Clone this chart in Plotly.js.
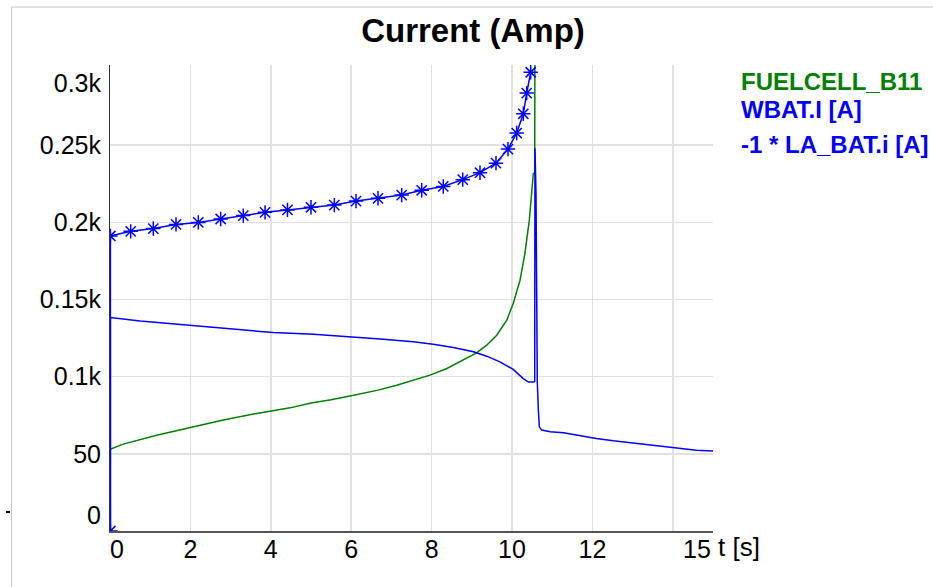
<!DOCTYPE html>
<html>
<head>
<meta charset="utf-8">
<script src="https://cdn.plot.ly/plotly-3.0.1.min.js"></script>
<style>
  html, body { margin: 0; padding: 0; background: #fff; }
  #chart { width: 933px; height: 587px; }
</style>
</head>
<body>
<div id="chart"></div>
<script>
// ---- data ----
var seriesNames = ["FUELCELL_B11", "WBAT.I [A]", "-1 * LA_BAT.i [A]"];

var tFuel = [0, 0.33, 1.16, 2.0, 2.82, 3.65, 4.48, 5.0, 5.5, 6.0, 6.67, 7.13, 7.55, 7.96, 8.38, 8.79, 9.12, 9.37, 9.62, 9.87, 10.03, 10.2, 10.32, 10.43, 10.49, 10.53, 10.565, 10.57];
var iFuel = [53, 56.3, 62.1, 67.1, 71.9, 76.2, 79.8, 82.9, 85.0, 87.6, 91.3, 94.5, 97.8, 101, 105.3, 110.7, 115.4, 120.4, 126.9, 136.6, 147.4, 162.5, 179.8, 201.3, 218.6, 231.5, 232, 310];

var tWbat = [0.01, 0.01, 0.515, 1.077, 1.642, 2.197, 2.754, 3.316, 3.856, 4.415, 5.0, 5.58, 6.12, 6.667, 7.256, 7.754, 8.29, 8.774, 9.204, 9.602, 9.9, 10.117, 10.281, 10.366, 10.465];
var iWbat = [0, 191.2, 194.2, 196.0, 198.7, 200.0, 202.2, 204.4, 206.5, 208.1, 209.8, 211.2, 213.8, 215.6, 217.7, 220.8, 223.3, 227.7, 232.2, 238.4, 247.5, 257.9, 270.4, 283.8, 297.3];

var tLa = [0.01, 0.01, 0.75, 2.0, 2.99, 4.06, 5.06, 5.89, 6.72, 7.545, 8.04, 8.54, 9.04, 9.37, 9.70, 10.03, 10.28, 10.41, 10.54, 10.565, 10.572, 10.597, 10.614, 10.629, 10.654, 10.679, 10.74, 10.95, 11.28, 11.69, 12.1, 12.52, 12.94, 13.35, 13.76, 14.18, 14.59, 15.0];
var iLa = [0, 138.3, 136.1, 133.4, 131.2, 128.6, 127.5, 126.2, 124.5, 122.6, 121.1, 118.9, 116.1, 113.3, 109.6, 104.7, 98.8, 96.5, 96.5, 97, 248, 218.6, 138, 96.6, 79.4, 67.5, 65.4, 64.3, 63.6, 61.7, 60.0, 58.5, 57.2, 55.9, 54.6, 53.3, 52.4, 51.8];

var xGridVals = [0, 2, 4, 6, 8, 10, 12, 14];
var xLabelVals = [0.17, 2, 4, 6, 8, 10, 12, 14.6];
var xLabelText = ["0", "2", "4", "6", "8", "10", "12", "15"];
var yGridVals = [50, 100, 150, 200, 250];
var yLabelVals = [10.4, 50, 100, 150, 200, 250, 290];
var yLabelText = ["0", "50", "0.1k", "0.15k", "0.2k", "0.25k", "0.3k"];

var GREEN = "#008000";
var BLUE = "#0000ff";
var FONT = "Liberation Sans, Arial, Helvetica, sans-serif";

// green on the grid subplot (x/y), blue series on the labelled overlay (x2/y2) so they draw on top
var traces = [
  { x: tFuel, y: iFuel, type: "scatter", mode: "lines", name: seriesNames[0],
    xaxis: "x", yaxis: "y", line: { color: GREEN, width: 1.5 } },
  { x: tWbat, y: iWbat, type: "scatter", mode: "lines+markers", name: seriesNames[1],
    xaxis: "x2", yaxis: "y2", line: { color: BLUE, width: 1.5 },
    marker: { symbol: "asterisk-open", size: 12, color: BLUE, line: { color: BLUE, width: 1.5 } } },
  { x: tLa, y: iLa, type: "scatter", mode: "lines", name: seriesNames[2],
    xaxis: "x2", yaxis: "y2", line: { color: BLUE, width: 1.5 } }
];

var L = 110, R = 713, T = 65, B = 531;
function px2paperX(p) { return (p - L) / (R - L); }
function px2paperY(p) { return (B - p) / (B - T); }

var layout = {
  width: 933, height: 587,
  margin: { l: L, r: 933 - R, t: T, b: 587 - B, pad: 0 },
  paper_bgcolor: "#ffffff", plot_bgcolor: "#ffffff",
  showlegend: false,
  font: { family: FONT, color: "#000000", size: 24 },
  title: { text: "<b>Current (Amp)</b>", font: { family: FONT, size: 33, color: "#000" },
           xref: "container", yref: "container", x: 473 / 933, xanchor: "center",
           y: 1 - 30 / 587, yanchor: "middle" },
  xaxis: { range: [0, 15], tickmode: "array", tickvals: xGridVals, showticklabels: false,
           showgrid: true, gridcolor: "#e2e2e2", gridwidth: 1.5, zeroline: false,
           showline: true, linecolor: "#555555", linewidth: 2, ticks: "", fixedrange: true },
  xaxis2: { overlaying: "x", anchor: "y2", side: "bottom", range: [0, 15], tickmode: "array",
            tickvals: xLabelVals, ticktext: xLabelText, showgrid: false, zeroline: false,
            showline: false, ticks: "", ticklabelstandoff: 1,
            tickfont: { family: FONT, size: 25, color: "#000" } },
  yaxis: { range: [0, 302], tickmode: "array", tickvals: yGridVals, showticklabels: false,
           showgrid: true, gridcolor: "#e2e2e2", gridwidth: 1.5, zeroline: false,
           showline: true, linecolor: "#333333", linewidth: 1.5, ticks: "", fixedrange: true },
  yaxis2: { overlaying: "y", anchor: "x2", side: "left", range: [0, 302], tickmode: "array",
            tickvals: yLabelVals, ticktext: yLabelText, showgrid: false, zeroline: false,
            showline: false, ticks: "", ticklabelstandoff: 8,
            tickfont: { family: FONT, size: 25, color: "#000" } },
  annotations: [
    { text: "t [s]", xref: "paper", yref: "paper", x: px2paperX(716), y: px2paperY(547),
      xanchor: "left", yanchor: "middle", showarrow: false,
      font: { family: FONT, size: 26, color: "#000" } },
    { text: "<b>" + seriesNames[0] + "</b>", xref: "paper", yref: "paper", x: px2paperX(739), y: px2paperY(81),
      xanchor: "left", yanchor: "middle", showarrow: false, font: { family: FONT, size: 24, color: GREEN } },
    { text: "<b>" + seriesNames[1] + "</b>", xref: "paper", yref: "paper", x: px2paperX(739), y: px2paperY(110),
      xanchor: "left", yanchor: "middle", showarrow: false, font: { family: FONT, size: 24, color: BLUE } },
    { text: "<b>" + seriesNames[2] + "</b>", xref: "paper", yref: "paper", x: px2paperX(739), y: px2paperY(144),
      xanchor: "left", yanchor: "middle", showarrow: false, font: { family: FONT, size: 24, color: BLUE } }
  ],
  shapes: [
    { type: "line", xref: "paper", yref: "paper", x0: px2paperX(11.5), x1: px2paperX(1000),
      y0: px2paperY(7), y1: px2paperY(7), line: { color: "#c8c8c8", width: 1 } },
    { type: "line", xref: "paper", yref: "paper", x0: px2paperX(11.5), x1: px2paperX(11.5),
      y0: px2paperY(7), y1: px2paperY(700), line: { color: "#c8c8c8", width: 1 } },
    { type: "line", xref: "paper", yref: "paper", x0: px2paperX(6), x1: px2paperX(10),
      y0: px2paperY(512), y1: px2paperY(512), line: { color: "#000000", width: 2 } }
  ]
};

Plotly.newPlot("chart", traces, layout, { staticPlot: true, displayModeBar: false });
</script>
</body>
</html>
